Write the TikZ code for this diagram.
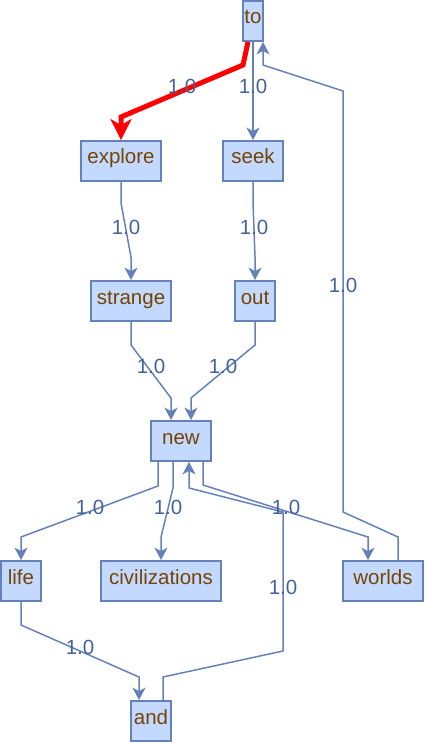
\documentclass[tikz,border=0pt]{standalone}
\usepackage{fontspec}
\setmainfont{Liberation Sans}
\usetikzlibrary{arrows.meta}
\definecolor{nodefill}{HTML}{C3D9FF}
\definecolor{nodestroke}{HTML}{6482B9}
\definecolor{nodetext}{HTML}{774400}
\definecolor{edgecol}{HTML}{6482B9}
\definecolor{labelcol}{HTML}{446299}
\definecolor{hotred}{HTML}{FF0000}
\tikzset{
  vbox/.style={draw=nodestroke, fill=nodefill, line width=1.8pt, rectangle,
    minimum height=40pt, inner sep=0pt, text=nodetext,
    font=\fontsize{20.5}{24}\selectfont, text height=14pt, text depth=8pt},
  edge/.style={draw=edgecol, line width=1.5pt,
    -{Stealth[length=12.5pt,width=13pt,inset=3.5pt]}},
  rededge/.style={draw=hotred, line width=5pt,
    -{Stealth[length=21pt,width=21pt,inset=6pt]}},
  lbl/.style={text=labelcol, inner sep=0pt, font=\fontsize{20.5}{24}\selectfont,
    text height=14.7pt, text depth=0pt}
}
\begin{document}
\begin{tikzpicture}[x=1pt,y=-1pt]
\useasboundingbox (0,0) rectangle (425,743);
% nodes
\node[vbox, minimum width=20pt]  (to)       at (253,21)  {to};
\node[vbox, minimum width=80pt]  (explore)  at (121,161) {explore};
\node[vbox, minimum width=60pt]  (seek)     at (253,161) {seek};
\node[vbox, minimum width=80pt]  (strange)  at (131,301) {strange};
\node[vbox, minimum width=40pt]  (out)      at (255,301) {out};
\node[vbox, minimum width=60pt]  (new)      at (181,441) {new};
\node[vbox, minimum width=40pt]  (life)     at (21,581)  {life};
\node[vbox, minimum width=120pt] (civ)      at (161,581) {civilizations};
\node[vbox, minimum width=80pt]  (worlds)   at (383,581) {worlds};
\node[vbox, minimum width=40pt]  (and)      at (151,721) {and};
% edges
\draw[edge] (to.south) -- (seek.north);
\draw[edge] ([xshift=15pt]worlds.north) -- (398,537) -- (343,512) -- (343,91) -- (263,65) -- ([xshift=10pt]to.south);
\draw[edge] (explore.south) -- (121,203) -- (131,257) -- (strange.north);
\draw[edge] (seek.south) -- (253,203) -- (255,257) -- (out.north);
\draw[edge] (strange.south) -- (131,345) -- (171,398) -- ([xshift=-10pt]new.north);
\draw[edge] (out.south) -- (255,345) -- (191,398) -- ([xshift=10pt]new.north);
\draw[edge] ([xshift=-23pt]new.south) -- (158,486) -- (21,537) -- (life.north);
\draw[edge] ([xshift=-8pt]new.south) -- (173,488) -- (161,537) -- (civ.north);
\draw[edge] ([xshift=22pt]new.south) -- (203,485) -- (368,537) -- ([xshift=-15pt]worlds.north);
\draw[edge] ([xshift=12pt]and.north) -- (163,677) -- (283,651) -- (283,512) -- (189,488) -- ([xshift=8pt]new.south);
\draw[edge] (life.south) -- (21,625) -- (139,677) -- ([xshift=-12pt]and.north);
\draw[rededge] ([xshift=-5pt]to.south) -- (243,65) -- (121,117) -- (explore.north);
% labels
\node[lbl] (l1)  at (182,86)  {1.0};
\node[lbl] (l2)  at (253,86)  {1.0};
\node[lbl] (l3)  at (343,285) {1.0};
\node[lbl] (l4)  at (126,227) {1.0};
\node[lbl] (l5)  at (254,227) {1.0};
\node[lbl] (l6)  at (151,366) {1.0};
\node[lbl] (l7)  at (223,366) {1.0};
\node[lbl] (l8)  at (90,507)  {1.0};
\node[lbl] (l9)  at (168,507) {1.0};
\node[lbl] (l10) at (286,507) {1.0};
\node[lbl] (l11) at (283,587) {1.0};
\node[lbl] (l12) at (80,647)  {1.0};
\end{tikzpicture}
\end{document}
